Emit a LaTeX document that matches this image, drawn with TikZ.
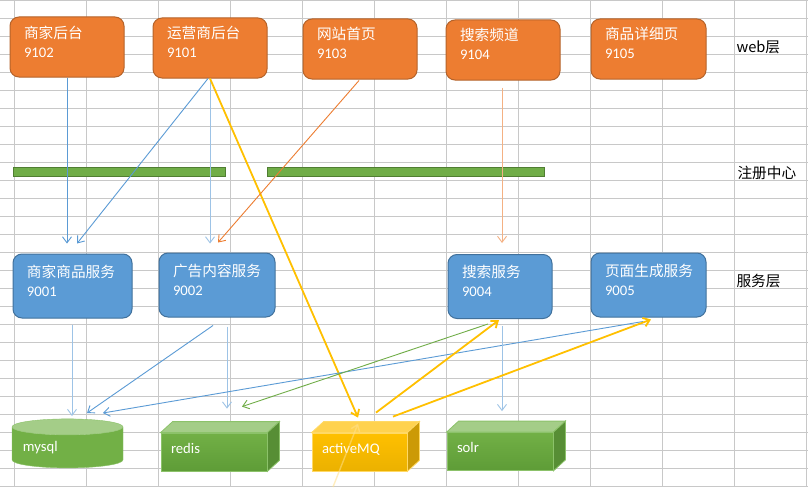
\documentclass[tikz,border=0pt]{standalone}
\usepackage{fontspec}
\setmainfont{Carlito}
\newfontfamily\cjk{Noto Sans CJK SC}
\usetikzlibrary{positioning,calc,arrows.meta,shapes.geometric}

\definecolor{gridgray}{HTML}{C8C8C8}
\definecolor{weborange}{HTML}{ED7D31}
\definecolor{webedge}{HTML}{B5632A}
\definecolor{svcblue}{HTML}{5B9BD5}
\definecolor{svcedge}{HTML}{41719C}
\definecolor{linkblue}{HTML}{5B9BD5}
\definecolor{paleblue}{HTML}{9DC3E6}
\definecolor{paleorange}{HTML}{F4B183}
\definecolor{reggreen}{HTML}{70AD47}
\definecolor{regedge}{HTML}{507E32}
\definecolor{greentop}{HTML}{A4CD88}
\definecolor{greenfront}{HTML}{72B046}
\definecolor{greenbottom}{HTML}{5E9C37}
\definecolor{greenside}{HTML}{578E35}
\definecolor{greenedge}{HTML}{8CC26A}
\definecolor{goldtop}{HTML}{FFD24F}
\definecolor{goldfront}{HTML}{FFC000}
\definecolor{goldbottom}{HTML}{EBB100}
\definecolor{goldside}{HTML}{CC9A06}
\definecolor{goldedge}{HTML}{FFD966}
\definecolor{mqgold}{HTML}{FFC000}
\definecolor{mqfaint}{HTML}{FFE08A}

% title on the first line, port on the second
\newcommand{\boxtext}[2]{\rule{0pt}{21pt}{\cjk #1}\\#2\rule[-20pt]{0pt}{20pt}}

\begin{document}
\begin{tikzpicture}[x=1pt, y=-1pt,
    font=\fontsize{14.67pt}{19pt}\selectfont,
    gridline/.style={gridgray, line width=0.8pt},
    webbox/.style={rectangle, rounded corners=9pt, draw=webedge, line width=1pt,
        fill=weborange, text=white, align=left, text width=86pt,
        inner xsep=14pt, inner ysep=0pt, minimum height=60pt},
    svcbox/.style={webbox, draw=svcedge, fill=svcblue, minimum height=64pt},
    regbar/.style={rectangle, draw=regedge, fill=reggreen, line width=0.8pt,
        minimum height=9pt, inner sep=0pt},
    layer/.style={anchor=west, font=\fontsize{14.67pt}{19pt}\selectfont\cjk},
    storedb/.style={cylinder, shape border rotate=90, aspect=0.18, draw=greenedge,
        cylinder uses custom fill, cylinder body fill=greenfront,
        cylinder end fill=greentop, minimum width=111pt, minimum height=49pt,
        text width=89pt, align=left, inner sep=0pt, text=white},
    storebox/.style={rectangle, draw=greenedge, line width=0.8pt,
        top color=greenfront, bottom color=greenbottom, text=white,
        minimum height=38pt, inner xsep=10pt, inner ysep=0pt, align=left,
        text width=86pt, text height=10pt, text depth=8pt},
    mqbox/.style={storebox, draw=goldedge, top color=goldfront, bottom color=goldbottom},
    link/.style={-{Straight Barb[length=6pt,width=9pt]}, line width=0.9pt},
    mqlink/.style={link, mqgold, line width=1.8pt}
]
    \fill[white] (0,0) rectangle (808,487);
    \useasboundingbox (0,0) rectangle (808,487);

    % sheet grid
    \foreach \x in {14,86,...,806}
        \draw[gridline] (\x,0) -- (\x,487);
    \foreach \y in {0,18,...,486}
        \draw[gridline] (0,\y) -- (808,\y);

    % web layer
    \node[webbox] (shopweb) at (67,47) {\boxtext{商家后台}{9102}};
    \node[webbox] (opsweb) at (210,48) {\boxtext{运营商后台}{9101}};
    \node[webbox] (homeweb) at (360,49) {\boxtext{网站首页}{9103}};
    \node[webbox] (searchweb) at (503,50) {\boxtext{搜索频道}{9104}};
    \node[webbox, text width=87pt] (itemweb) at (648.5,49) {\boxtext{商品详细页}{9105}};
    \node[layer] (weblayer) at (733,47) {web层};

    % registry
    \node[regbar, minimum width=212pt] (reg1) at (119,171.5) {};
    \node[regbar, minimum width=277pt] (reg2) at (405.5,171.5) {};
    \node[layer] (reglayer) at (734,173) {注册中心};

    % service layer
    \node[svcbox, text width=91pt] (goodssvc) at (72.5,286) {\boxtext{商家商品服务}{9001}};
    \node[svcbox, text width=88pt] (adsvc) at (217,285) {\boxtext{广告内容服务}{9002}};
    \node[svcbox, text width=76pt] (searchsvc) at (500,286.5) {\boxtext{搜索服务}{9004}};
    \node[svcbox, text width=87pt] (pagesvc) at (648.5,285) {\boxtext{页面生成服务}{9005}};
    \node[layer] (svclayer) at (733,281) {服务层};

    % storage
    \node[storedb] (mysql) at (67.5,447.5) {mysql};
    \node[storebox] (redis) at (214,452) {redis};
    \node[mqbox, text width=75pt] (mq) at (359.5,452) {activeMQ};
    \node[storebox] (solr) at (500,451.5) {solr};
    \foreach \n/\ct/\cs/\ce in {redis/greentop/greenside/greenedge,
            mq/goldtop/goldside/goldedge, solr/greentop/greenside/greenedge} {
        \filldraw[fill=\ct, draw=\ce, line width=0.8pt] (\n.north west) -- ++(12,-11)
            -- ($(\n.north east)+(12,-11)$) -- (\n.north east) -- cycle;
        \filldraw[fill=\cs, draw=\ce, line width=0.8pt] (\n.north east) -- ++(12,-11)
            -- ($(\n.south east)+(12,-11)$) -- (\n.south east) -- cycle;
    }

    % calls from the web layer
    \draw[link, linkblue] (shopweb.south) -- ($(goodssvc.north)+(-5.5,-10)$);
    \draw[link, linkblue] ($(opsweb.south)+(-2,0)$) -- ($(goodssvc.north)+(4.5,-10)$);
    \draw[link, paleblue] (opsweb.south) -- ($(adsvc.north)+(-7,-9)$);
    \draw[mqlink] (opsweb.south) -- ($(mq.north)+(-1.5,-15)$);
    \draw[link, weborange] ($(homeweb.south)+(-1,1)$) -- ($(adsvc.north)+(1,-10)$);
    \draw[link, paleorange] ($(searchweb.south)+(-1,7)$) -- ($(searchsvc.north)+(2,-11)$);

    % calls from the service layer
    \draw[link, paleblue] ($(goodssvc.south)+(-0.5,6)$) -- ($(mysql.center)+(4.5,-31.5)$);
    \draw[link, linkblue] ($(adsvc.south)+(-4,8)$) -- ($(mysql.center)+(19.5,-34.5)$);
    \draw[link, paleblue] ($(adsvc.south)+(10,9)$) -- ($(redis.north)+(13,-24)$);
    \draw[link, linkblue] ($(pagesvc.south)+(-5.5,4)$) -- ($(mysql.center)+(35.5,-34.5)$);
    \draw[link, reggreen] ($(searchsvc.south)+(-12,5)$) -- ($(redis.north)+(28,-26)$);
    \draw[link, paleblue] ($(searchsvc.south)+(2,7)$) -- ($(solr.north)+(2,-21)$);

    % messages out of activeMQ
    \draw[mqlink] ($(mq.north)+(16.5,-20)$) -- ($(searchsvc.south)+(-1,1)$);
    \draw[mqlink] ($(mq.north)+(33.5,-16)$) -- ($(pagesvc.south)+(2.5,2)$);
    \coordinate (mqfeed) at (333,487);
    \draw[link, mqfaint, line width=1.4pt, opacity=0.55] (mqfeed) -- ($(mq.north)+(-1.5,-9)$);
\end{tikzpicture}
\end{document}
